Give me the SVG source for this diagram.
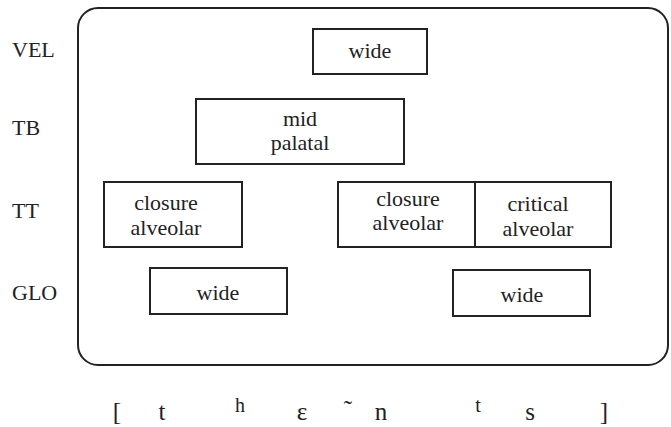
<svg xmlns="http://www.w3.org/2000/svg" width="671" height="427" viewBox="0 0 671 427">
<rect width="671" height="427" fill="#fff"/>
<g id="frame"><rect x="78" y="8" width="590" height="357" rx="20" ry="20" fill="none" stroke="#222" stroke-width="2"/></g>
<g id="tiers">
<text x="12" y="57" style="font-family:'Liberation Serif',serif;font-size:22px;fill:#222">VEL</text>
<text x="12" y="135" style="font-family:'Liberation Serif',serif;font-size:22px;fill:#222">TB</text>
<text x="12" y="218" style="font-family:'Liberation Serif',serif;font-size:22px;fill:#222">TT</text>
<text x="12" y="300" style="font-family:'Liberation Serif',serif;font-size:22px;fill:#222">GLO</text>
</g>
<g id="vel-wide"><rect x="313" y="29" width="114" height="45" fill="#fff" stroke="#222" stroke-width="2"/><text x="370" y="58" text-anchor="middle" style="font-family:'Liberation Serif',serif;font-size:22px;fill:#222">wide</text></g>
<g id="tb-mid-palatal"><rect x="196" y="99" width="208" height="65" fill="#fff" stroke="#222" stroke-width="2"/><text x="300" y="126" text-anchor="middle" style="font-family:'Liberation Serif',serif;font-size:22px;fill:#222">mid</text><text x="300" y="150" text-anchor="middle" style="font-family:'Liberation Serif',serif;font-size:22px;fill:#222">palatal</text></g>
<g id="tt-closure-1"><rect x="104" y="182" width="138" height="65" fill="#fff" stroke="#222" stroke-width="2"/><text x="166" y="210" text-anchor="middle" style="font-family:'Liberation Serif',serif;font-size:22px;fill:#222">closure</text><text x="166" y="235" text-anchor="middle" style="font-family:'Liberation Serif',serif;font-size:22px;fill:#222">alveolar</text></g>
<g id="tt-closure-2"><rect x="338" y="182" width="137" height="65" fill="#fff" stroke="#222" stroke-width="2"/><text x="408" y="206" text-anchor="middle" style="font-family:'Liberation Serif',serif;font-size:22px;fill:#222">closure</text><text x="408" y="230" text-anchor="middle" style="font-family:'Liberation Serif',serif;font-size:22px;fill:#222">alveolar</text></g>
<g id="tt-critical"><rect x="475" y="182" width="136" height="65" fill="#fff" stroke="#222" stroke-width="2"/><text x="538" y="211" text-anchor="middle" style="font-family:'Liberation Serif',serif;font-size:22px;fill:#222">critical</text><text x="538" y="236" text-anchor="middle" style="font-family:'Liberation Serif',serif;font-size:22px;fill:#222">alveolar</text></g>
<g id="glo-wide-1"><rect x="150" y="268" width="137" height="46" fill="#fff" stroke="#222" stroke-width="2"/><text x="218" y="300" text-anchor="middle" style="font-family:'Liberation Serif',serif;font-size:22px;fill:#222">wide</text></g>
<g id="glo-wide-2"><rect x="453" y="270" width="137" height="46" fill="#fff" stroke="#222" stroke-width="2"/><text x="522" y="302" text-anchor="middle" style="font-family:'Liberation Serif',serif;font-size:22px;fill:#222">wide</text></g>
<g id="connectors"></g>
<g id="transcription">
<text x="117" y="420" text-anchor="middle" style="font-family:'Liberation Serif',serif;font-size:25px;fill:#222">[</text>
<text x="162" y="420" text-anchor="middle" style="font-family:'Liberation Serif',serif;font-size:25px;fill:#222">t</text>
<text x="240" y="412" text-anchor="middle" style="font-family:'Liberation Serif',serif;font-size:20px;fill:#222">h</text>
<text x="302" y="420" text-anchor="middle" style="font-family:'Liberation Serif',serif;font-size:25px;fill:#222">&#603;</text>
<text x="348" y="418" text-anchor="middle" style="font-family:'Liberation Serif',serif;font-size:25px;fill:#222">&#732;</text>
<text x="381" y="420" text-anchor="middle" style="font-family:'Liberation Serif',serif;font-size:25px;fill:#222">n</text>
<text x="478" y="412" text-anchor="middle" style="font-family:'Liberation Serif',serif;font-size:20px;fill:#222">t</text>
<text x="530" y="420" text-anchor="middle" style="font-family:'Liberation Serif',serif;font-size:25px;fill:#222">s</text>
<text x="604" y="420" text-anchor="middle" style="font-family:'Liberation Serif',serif;font-size:25px;fill:#222">]</text>
</g>
</svg>
